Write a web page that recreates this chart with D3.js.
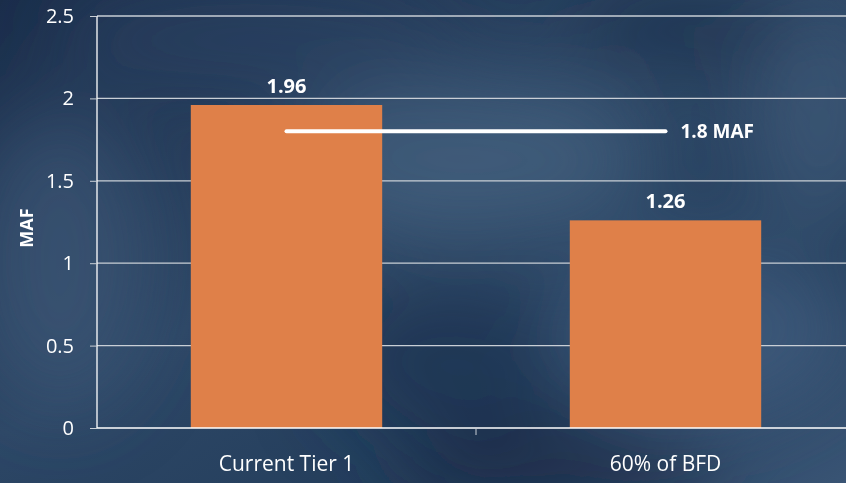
<!DOCTYPE html>
<meta charset="utf-8">
<script src="https://d3js.org/d3.v7.min.js"></script>
<style>
  body { margin: 0; background: #1d3350; }
  text { font-family: "Open Sans", "Noto Sans", sans-serif; fill: #ffffff; }
</style>
<div id="chart"></div>
<script>
// data
var categories = ["Current Tier 1", "60% of BFD"];
var values = [1.96, 1.26];
var yTicks = [0, 0.5, 1, 1.5, 2, 2.5];
var refValue = 1.8;
var refLabel = "1.8 MAF";
var yTitle = "MAF";

var W = 846, H = 483;
var margin = {top: 16, right: -9, bottom: 55, left: 97};
var width = W - margin.left - margin.right,
    height = H - margin.top - margin.bottom;

var svg = d3.select("#chart").append("svg")
    .attr("width", W)
    .attr("height", H);

// background: dark cloudy sky
var defs = svg.append("defs");
var base = defs.append("linearGradient").attr("id", "base")
    .attr("x1", 0).attr("y1", 0).attr("x2", 1).attr("y2", 1);
base.append("stop").attr("offset", "0%").attr("stop-color", "#1b2e4b");
base.append("stop").attr("offset", "45%").attr("stop-color", "#2d4766");
base.append("stop").attr("offset", "75%").attr("stop-color", "#243e5c");
base.append("stop").attr("offset", "100%").attr("stop-color", "#3a5575");

defs.append("filter").attr("id", "blur")
  .append("feGaussianBlur").attr("stdDeviation", 40);

svg.append("rect").attr("width", W).attr("height", H).attr("fill", "url(#base)");

var glows = [
  {cx: 470, cy: 160, rx: 180, ry: 80, c: "#4a6584", o: 0.65},
  {cx: 60, cy: 260, rx: 90, ry: 150, c: "#3f5a7a", o: 0.6},
  {cx: 700, cy: 330, rx: 150, ry: 90, c: "#4a6688", o: 0.6},
  {cx: 820, cy: 120, rx: 70, ry: 120, c: "#4b6685", o: 0.5},
  {cx: 250, cy: 40, rx: 200, ry: 50, c: "#2c4565", o: 0.6},
  {cx: 450, cy: 360, rx: 120, ry: 80, c: "#1c3352", o: 0.7},
  {cx: 560, cy: 470, rx: 160, ry: 40, c: "#152741", o: 0.8},
  {cx: 690, cy: 30, rx: 120, ry: 40, c: "#1a2d4a", o: 0.7}
];
svg.append("g").attr("filter", "url(#blur)")
  .selectAll("ellipse").data(glows).join("ellipse")
    .attr("cx", d => d.cx).attr("cy", d => d.cy)
    .attr("rx", d => d.rx).attr("ry", d => d.ry)
    .attr("fill", d => d.c).attr("opacity", d => d.o);

var g = svg.append("g")
    .attr("transform", "translate(" + margin.left + "," + margin.top + ")");

var x = d3.scaleBand().domain(categories).range([0, width]).padding(0);
var y = d3.scaleLinear().domain([0, 2.5]).range([height, 0]);

// gridlines
g.append("g").selectAll("line").data(yTicks.filter(d => d > 0)).join("line")
    .attr("x1", 0).attr("x2", width)
    .attr("y1", d => y(d)).attr("y2", d => y(d))
    .attr("stroke", "#c9cfd6").attr("stroke-width", 1.3);

// bars
var barW = x.bandwidth() * 0.505;
g.append("g").selectAll("rect").data(values).join("rect")
    .attr("x", (d, i) => x(categories[i]) + (x.bandwidth() - barW) / 2)
    .attr("y", d => y(d))
    .attr("width", barW)
    .attr("height", d => y(0) - y(d))
    .attr("fill", "#df8049");

// value labels
g.append("g").selectAll("text").data(values).join("text")
    .attr("x", (d, i) => x(categories[i]) + x.bandwidth() / 2)
    .attr("y", d => y(d) - 12)
    .attr("text-anchor", "middle")
    .style("font-size", "20px").style("font-weight", "bold")
    .text(d => d.toFixed(2));

// y axis
var yAxis = g.append("g")
    .call(d3.axisLeft(y).tickValues(yTicks).tickSize(7).tickPadding(16)
      .tickFormat(d => d));
yAxis.select(".domain").attr("stroke", "#ffffff").attr("stroke-width", 1.3)
    .attr("d", "M0," + height + "V0");
yAxis.selectAll(".tick line").attr("stroke", "#c9cfd6");
yAxis.selectAll(".tick text").style("font-size", "20px").attr("fill", "#ffffff");

// x axis
var xAxis = g.append("g")
    .attr("transform", "translate(0," + height + ")")
    .call(d3.axisBottom(x).tickSize(0).tickPadding(28));
xAxis.select(".domain").attr("stroke", "#ffffff").attr("stroke-width", 1.3)
    .attr("d", "M0,0H" + width);
xAxis.selectAll(".tick text").style("font-size", "21px").attr("fill", "#ffffff");
// category divider tick
g.append("line")
    .attr("x1", x(categories[1])).attr("x2", x(categories[1]))
    .attr("y1", height).attr("y2", height + 7)
    .attr("stroke", "#c9cfd6");

// reference line
var c0 = x(categories[0]) + x.bandwidth() / 2,
    c1 = x(categories[1]) + x.bandwidth() / 2;
g.append("line")
    .attr("x1", c0).attr("x2", c1)
    .attr("y1", y(refValue)).attr("y2", y(refValue))
    .attr("stroke", "#ffffff").attr("stroke-width", 4)
    .attr("stroke-linecap", "round");
g.append("text")
    .attr("x", c1 + 15).attr("y", y(refValue))
    .attr("dy", "0.35em")
    .style("font-size", "19px").style("font-weight", "bold")
    .text(refLabel);

// y title
svg.append("text")
    .attr("transform", "translate(33," + (margin.top + height / 2 + 6) + ") rotate(-90)")
    .attr("text-anchor", "middle")
    .style("font-size", "18px").style("font-weight", "bold")
    .text(yTitle);
</script>
